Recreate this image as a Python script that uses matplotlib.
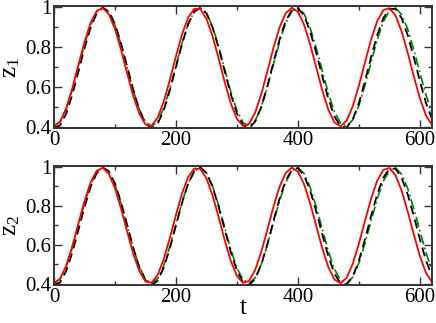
import numpy as np
import matplotlib
matplotlib.use("Agg")
import matplotlib.pyplot as plt
from matplotlib.ticker import MultipleLocator, FixedLocator, FixedFormatter

plt.rcParams['font.family'] = ['Liberation Serif', 'DejaVu Serif']
plt.rcParams['mathtext.fontset'] = 'custom'
plt.rcParams['mathtext.rm'] = 'Liberation Serif'
plt.rcParams['mathtext.it'] = 'Liberation Serif'

# time samples (every 10 units)
t = np.arange(0, 630, 10)

# z1
z1_red = [0.403, 0.427, 0.494, 0.594, 0.711, 0.826, 0.921, 0.981, 0.996, 0.964,
          0.890, 0.785, 0.667, 0.554, 0.465, 0.412, 0.406, 0.447, 0.528, 0.636,
          0.755, 0.865, 0.948, 0.992, 0.990, 0.941, 0.854, 0.742, 0.623, 0.517,
          0.440, 0.405, 0.416, 0.473, 0.566, 0.680, 0.798, 0.900, 0.970, 0.997,
          0.977, 0.912, 0.814, 0.698, 0.582, 0.485, 0.422, 0.403, 0.432, 0.504,
          0.607, 0.724, 0.838, 0.930, 0.985, 0.995, 0.958, 0.879, 0.772, 0.654,
          0.543, 0.457, 0.409]
z1_black = [0.394, 0.408, 0.467, 0.562, 0.677, 0.795, 0.898, 0.969, 0.997, 0.978,
            0.915, 0.817, 0.701, 0.584, 0.484, 0.417, 0.393, 0.417, 0.484, 0.584,
            0.701, 0.817, 0.915, 0.978, 0.997, 0.969, 0.898, 0.795, 0.677, 0.562,
            0.467, 0.408, 0.394, 0.427, 0.501, 0.606, 0.725, 0.839, 0.931, 0.985,
            0.995, 0.957, 0.879, 0.772, 0.653, 0.540, 0.452, 0.402, 0.397, 0.439,
            0.520, 0.630, 0.749, 0.860, 0.945, 0.991, 0.991, 0.945, 0.860, 0.749,
            0.629, 0.520, 0.439]
z1_green = [0.403, 0.425, 0.489, 0.586, 0.700, 0.814, 0.911, 0.975, 0.997, 0.974,
            0.908, 0.811, 0.696, 0.582, 0.487, 0.424, 0.403, 0.428, 0.495, 0.593,
            0.708, 0.821, 0.916, 0.978, 0.997, 0.970, 0.902, 0.803, 0.688, 0.575,
            0.481, 0.421, 0.403, 0.432, 0.501, 0.601, 0.716, 0.829, 0.922, 0.981,
            0.996, 0.967, 0.896, 0.795, 0.680, 0.567, 0.475, 0.418, 0.404, 0.435,
            0.507, 0.609, 0.724, 0.836, 0.927, 0.983, 0.996, 0.963, 0.890, 0.787,
            0.672, 0.560, 0.470]

# z2 looks the same as z1 in the picture
z2_red = list(z1_red)
z2_black = list(z1_black)
z2_green = list(z1_green)

ytick_vals = [0.4, 0.6, 0.8, 1.0]
ytick_labels = ["0.4", "0.6", "0.8", "1"]
xtick_vals = [0, 200, 400, 600]

fig = plt.figure(figsize=(4.36, 3.23), dpi=100)
ax1 = fig.add_axes([0.124, 0.604, 0.867, 0.377])
ax2 = fig.add_axes([0.124, 0.118, 0.867, 0.368])

for ax, zr, zb, zg, lab in [(ax1, z1_red, z1_black, z1_green, r"$\mathregular{z_1}$"),
                            (ax2, z2_red, z2_black, z2_green, r"$\mathregular{z_2}$")]:
    ax.plot(t, zg, color="#008000", lw=1.2, dashes=(6, 2, 1, 2))
    ax.plot(t, zb, color="black", lw=1.3, dashes=(5, 3))
    ax.plot(t, zr, color="red", lw=1.3)
    ax.set_xlim(0, 620)
    ax.set_ylim(0.395, 1.005)
    ax.xaxis.set_major_locator(FixedLocator(xtick_vals))
    ax.xaxis.set_minor_locator(MultipleLocator(100))
    ax.yaxis.set_major_locator(FixedLocator(ytick_vals))
    ax.yaxis.set_major_formatter(FixedFormatter(ytick_labels))
    ax.yaxis.set_minor_locator(MultipleLocator(0.1))
    ax.tick_params(which="both", direction="in", top=True, right=True,
                   labelsize=15, pad=2, color="#333333")
    ax.tick_params(which="major", length=6, width=1)
    ax.tick_params(which="minor", length=3, width=1)
    for s in ax.spines.values():
        s.set_linewidth(1.4)
        s.set_color("#333333")
    ax.set_ylabel(lab, fontsize=18, labelpad=2)

ax2.set_xlabel("t", fontsize=18, labelpad=-7)

fig.savefig("out.png", dpi=100)
